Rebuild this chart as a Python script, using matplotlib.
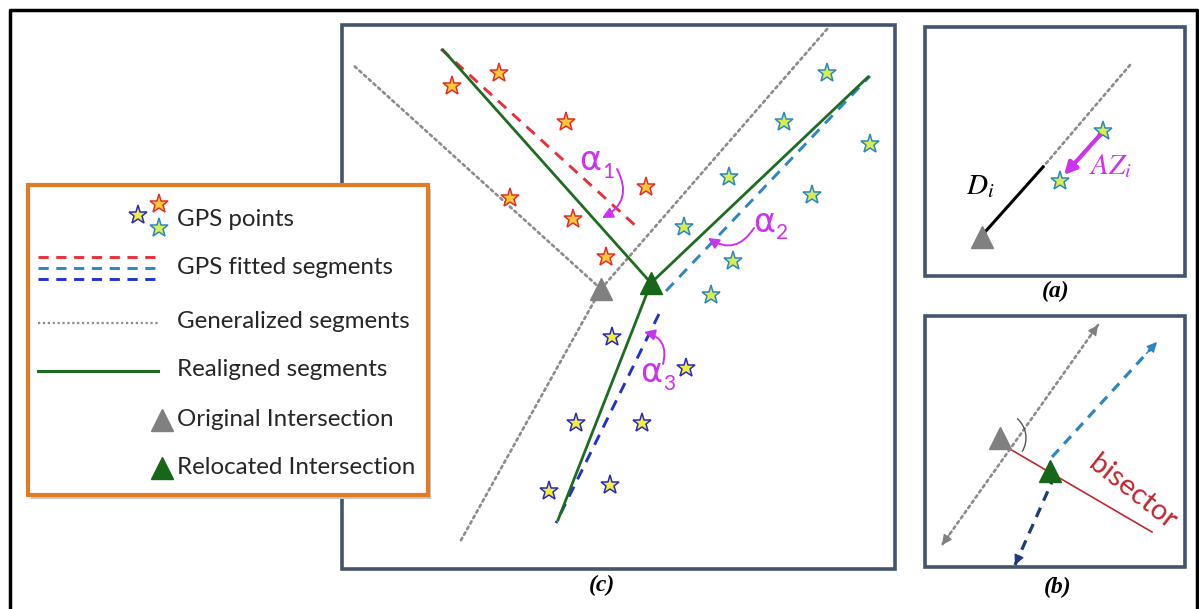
import matplotlib.pyplot as plt
from matplotlib.patches import Rectangle, Arc

plt.rcParams['font.family'] = ['Lato', 'DejaVu Sans']
plt.rcParams['mathtext.fontset'] = 'stix'

# ---- data (pixel coordinates of the sketch) ----
# panel (c)
red_x = [452, 499, 566, 646, 510, 573, 606]
red_y = [86, 73, 122, 187, 198, 219, 257]
teal_x = [827, 784, 870, 729, 812, 684, 733, 711]
teal_y = [73, 122, 144, 177, 195, 227, 261, 295]
blue_x = [612, 686, 576, 642, 549, 610]
blue_y = [337, 368, 423, 423, 491, 485]

orig_pt = (601, 289)
new_pt = (651, 283)
general_ends = [(352, 64), (828, 28), (460, 542)]
realigned_ends = [(443, 50), (868, 77), (558, 520)]
fitted = {'#E8303A': [(441, 49), (637, 227)],
          '#2E86C1': [(666, 291), (870, 76)],
          '#2233CC': [(659, 314), (556, 523)]}
alpha_lbl = ['1', '2', '3']
alpha_pos = [(590, 161), (764, 222), (651, 373)]
alpha_arrows = [((617, 169), (602, 218), -0.5),
                ((754, 228), (708, 238), -0.5),
                ((663, 364), (644, 332), 0.5)]

# panel (a)
a_dotted = [(1130, 65), (1043, 167)]
a_black = [(1043, 167), (985, 232)]
a_tri = (982, 237)
a_stars = [(1103, 131), (1060, 181)]
a_arrow = [(1100, 135), (1064, 175)]

# panel (b)
b_gray = [(1098, 325), (942, 545)]
b_tri_gray = (1000, 438)
b_tri_green = (1050, 471)
b_bisector = [(1003, 445), (1152, 532)]
b_light = [(1052, 457), (1157, 342)]
b_dark = [(1055, 475), (1015, 565)]

legend_labels = ['GPS points', 'GPS fitted segments', 'Generalized segments',
                 'Realigned segments', 'Original Intersection', 'Relocated Intersection']
legend_y = [220, 268, 321, 369, 419, 468]

panel_col = '#44546A'
green = '#1E6B22'
gray = '#8C8C8C'
magenta = '#CC33EE'

fig = plt.figure(figsize=(11.99, 6.09), dpi=100)
ax = fig.add_axes([0, 0, 1, 1])
ax.set_xlim(0, 1199)
ax.set_ylim(609, 0)
ax.axis('off')

# outer frame
ax.plot([10, 10, 1197, 1197], [609, 10, 10, 609], color='black', lw=2.5)

# panels
for x0, y0, x1, y1 in [(342, 25, 895, 569), (925, 27, 1185, 276), (925, 316, 1185, 567)]:
    ax.add_patch(Rectangle((x0, y0), x1 - x0, y1 - y0, fill=False, ec=panel_col, lw=2.6, zorder=1))

dot_style = dict(color=gray, lw=1.9, ls=(0, (1, 1.4)), dash_capstyle='round')
lbl_font = dict(family=['Liberation Serif'], style='italic', weight='bold', fontsize=17,
                ha='center', va='center')


def star(x, y, fc, ec, z=5):
    ax.plot(x, y, marker='*', ms=14, ls='none', mew=1.1, mfc=fc, mec=ec, zorder=z)


# panel (c)
for e in general_ends:
    ax.plot([orig_pt[0], e[0]], [orig_pt[1], e[1]], **dot_style, zorder=2)
for col, (p, q) in fitted.items():
    ax.plot([p[0], q[0]], [p[1], q[1]], color=col, lw=2.1, ls=(0, (3.8, 2.8)), zorder=3)
for e in realigned_ends:
    ax.plot([new_pt[0], e[0]], [new_pt[1], e[1]], color=green, lw=2.0, zorder=4)

star(red_x, red_y, '#FFC83A', '#E0302A')
star(teal_x, teal_y, '#D8EE50', '#2E86C1')
star(blue_x, blue_y, '#F2EE40', '#2A2ABF')

ax.plot(*orig_pt, marker='^', ms=16, color='#808080', zorder=6)
ax.plot(*new_pt, marker='^', ms=16, color='#17661A', zorder=6)

for lbl, (x, y) in zip(alpha_lbl, alpha_pos):
    ax.text(x, y, 'α', color=magenta, fontsize=24, ha='center', va='center',
            family=['DejaVu Sans'], zorder=7)
    ax.text(x + 18, y + 11, lbl, color=magenta, fontsize=15, ha='center', va='center', zorder=7)
for s, t, rad in alpha_arrows:
    ax.annotate('', xy=t, xytext=s, zorder=7,
                arrowprops=dict(arrowstyle='-|>', color=magenta, lw=1.4, mutation_scale=16,
                                shrinkA=0, shrinkB=0, connectionstyle=f'arc3,rad={rad}'))
ax.text(602, 585, '(c)', **lbl_font)

# legend
ax.add_patch(Rectangle((31, 189), 400, 310, fc='#C8C8C8', ec='none', zorder=8))
ax.add_patch(Rectangle((28, 185), 400, 310, fc='white', ec='#E07B26', lw=3, zorder=9))
star([138], [215], '#F2EE40', '#2A2ABF', z=10)
star([159], [204], '#FFC83A', '#E0302A', z=10)
star([159], [228], '#D8EE50', '#2E86C1', z=10)
for yy, col in zip([257, 268, 279], fitted):
    ax.plot([38, 158], [yy, yy], color=col, lw=2.1, ls=(0, (3.5, 2.6)), zorder=10)
ax.plot([38, 158], [323, 323], color=gray, lw=1.6, ls=(0, (1, 1.2)), zorder=10)
ax.plot([38, 158], [371, 371], color=green, lw=2.2, zorder=10)
ax.plot(162, 420, marker='^', ms=16, color='#808080', zorder=10)
ax.plot(162, 468, marker='^', ms=16, color='#17661A', zorder=10)
for lbl, yy in zip(legend_labels, legend_y):
    ax.text(177, yy, lbl, fontsize=17.4, color='#262626', va='center', ha='left', zorder=10)

# panel (a)
ax.plot(*zip(*a_dotted), **dot_style, zorder=2)
ax.plot(*zip(*a_black), color='black', lw=2.2, zorder=3)
ax.plot(*a_tri, marker='^', ms=16, color='#808080', zorder=6)
for x, y in a_stars:
    star([x], [y], '#D8EE50', '#2E86C1')
ax.annotate('', xy=a_arrow[1], xytext=a_arrow[0], zorder=7,
            arrowprops=dict(arrowstyle='-|>', color=magenta, lw=3, mutation_scale=18,
                            shrinkA=0, shrinkB=0))
ax.text(1110, 166, '$AZ_i$', color=magenta, fontsize=21, ha='center', va='center')
ax.text(980, 187, '$D_i$', color='black', fontsize=21, ha='center', va='center')
ax.text(1056, 291, '(a)', **lbl_font)

# panel (b)
ax.plot(*zip(*b_gray), **dot_style, zorder=2)
for p, q in [(b_gray[0], b_gray[1]), (b_gray[1], b_gray[0])]:
    ax.annotate('', xy=p, xytext=(p[0] + (q[0] - p[0]) * 0.05, p[1] + (q[1] - p[1]) * 0.05),
                arrowprops=dict(arrowstyle='-|>', color='#808080', lw=1, mutation_scale=15,
                                shrinkA=0, shrinkB=0))
ax.plot(*zip(*b_bisector), color='#C0282E', lw=1.2, zorder=3)
ax.add_patch(Arc(b_tri_gray, 52, 52, theta1=-49, theta2=32, color='#555555', lw=1, zorder=3))
for line, col in [(b_light, '#2E86C1'), (b_dark, '#1F3A7A')]:
    ax.plot(*zip(*line), color=col, lw=2.3, ls=(0, (3.2, 2.4)), zorder=3)
    p, q = line[1], line[0]
    ax.annotate('', xy=p, xytext=(p[0] + (q[0] - p[0]) * 0.1, p[1] + (q[1] - p[1]) * 0.1),
                arrowprops=dict(arrowstyle='-|>', color=col, lw=1, mutation_scale=15,
                                shrinkA=0, shrinkB=0))
ax.plot(*b_tri_gray, marker='^', ms=16, color='#808080', zorder=6)
ax.plot(*b_tri_green, marker='^', ms=16, color='#17661A', zorder=6)
ax.text(1133, 492, 'bisector', color='#C0282E', fontsize=21, rotation=-38,
        ha='center', va='center', rotation_mode='anchor')
ax.text(1058, 587, '(b)', **lbl_font)

fig.savefig('out.png', dpi=100)
